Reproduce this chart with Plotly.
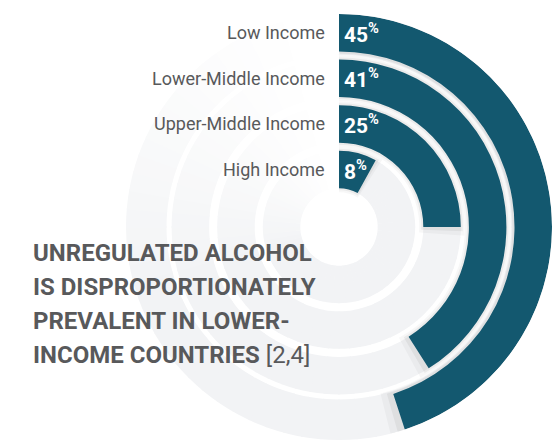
import plotly.graph_objects as go

# ---- data ----
categories = ["Low Income", "Lower-Middle Income", "Upper-Middle Income", "High Income"]
values = [45, 41, 25, 8]  # percent
title_lines = ["UNREGULATED ALCOHOL", "IS DISPROPORTIONATELY", "PREVALENT IN LOWER-", "INCOME COUNTRIES"]
title_ref = "[2,4]"

# ---- geometry / style ----
W, H = 556, 440
CX, CY = 339, 227          # centre of rings in pixels
R = 213                     # outer radius (pixels == radial units)
PITCH = 45.6
THICK = 37.5
BAR_COLOR = "#13586f"
TEXT_COLOR = "#58595b"
TRACK_GRAY = (242, 243, 245)

outers = [R - PITCH * i for i in range(len(categories))]
inners = [o - THICK for o in outers]

fig = go.Figure()

# background tracks with a fade toward the top-left
def track_color(theta):
    t = theta % 360
    if t <= 250:
        k = 1.0
    elif t >= 355:
        k = 0.0
    else:
        k = ((355 - t) / 105.0) ** 1.3
    r, g, b = (round(255 + (c - 255) * k) for c in TRACK_GRAY)
    return f"rgb({r},{g},{b})"

seg = 5
th, wd, bs, rr, cols = [], [], [], [], []
for i, (o, n) in enumerate(zip(outers, inners)):
    ext = 3 if i == 0 else 0
    for s in range(0, 360, seg):
        th.append(s + seg / 2)
        wd.append(seg + 0.6)
        bs.append(n - ext)
        rr.append(o - n + 2 * ext)
        cols.append(track_color(s + seg / 2))
fig.add_trace(go.Barpolar(theta=th, width=wd, base=bs, r=rr,
                          marker=dict(color=cols, line=dict(width=0)),
                          hoverinfo="skip", showlegend=False))

# soft shadow under bars
for k, a in ((4, 0.03), (2, 0.05)):
    fig.add_trace(go.Barpolar(theta=[v * 3.6 / 2 + k * 0.5 for v in values],
                              width=[v * 3.6 + k for v in values],
                              base=[n - k for n in inners],
                              r=[THICK + 2 * k for _ in values],
                              marker=dict(color=f"rgba(0,0,0,{a})", line=dict(width=0)),
                              hoverinfo="skip", showlegend=False))

# value bars
fig.add_trace(go.Barpolar(theta=[v * 3.6 / 2 for v in values],
                          width=[v * 3.6 for v in values],
                          base=inners,
                          r=[THICK for _ in values],
                          marker=dict(color=BAR_COLOR, line=dict(width=0)),
                          text=categories, hoverinfo="text", showlegend=False))

fig.update_layout(
    width=W, height=H,
    margin=dict(l=0, r=0, t=0, b=0),
    paper_bgcolor="white",
    plot_bgcolor="white",
    polar=dict(
        domain=dict(x=[(CX - R) / W, (CX + R) / W], y=[1 - (CY + R) / H, 1 - (CY - R) / H]),
        bgcolor="rgba(0,0,0,0)",
        hole=0,
        radialaxis=dict(range=[0, R], visible=False),
        angularaxis=dict(rotation=90, direction="clockwise", visible=False),
        bargap=0,
    ),
)

annotations = []
for cat, v, o in zip(categories, values, outers):
    yc = 1 - (CY - (o - THICK / 2)) / H
    annotations.append(dict(x=327 / W, y=yc, xref="paper", yref="paper",
                            text=cat, showarrow=False, xanchor="right", yanchor="middle",
                            font=dict(family="Roboto", size=18, color=TEXT_COLOR)))
    annotations.append(dict(x=342 / W, y=yc, xref="paper", yref="paper",
                            text=f"<b>{v}<sup>%</sup></b>", showarrow=False,
                            xanchor="left", yanchor="middle",
                            font=dict(family="Roboto", size=21, color="white")))

for i, line in enumerate(title_lines):
    txt = f"<b>{line}</b>"
    if i == len(title_lines) - 1:
        txt += f" {title_ref}"
    annotations.append(dict(x=31 / W, y=1 - (253 + 34 * i) / H, xref="paper", yref="paper",
                            text=txt, showarrow=False, xanchor="left", yanchor="middle",
                            font=dict(family="Roboto", size=24, color=TEXT_COLOR)))

fig.update_layout(annotations=annotations)
fig.write_html("out.html")
